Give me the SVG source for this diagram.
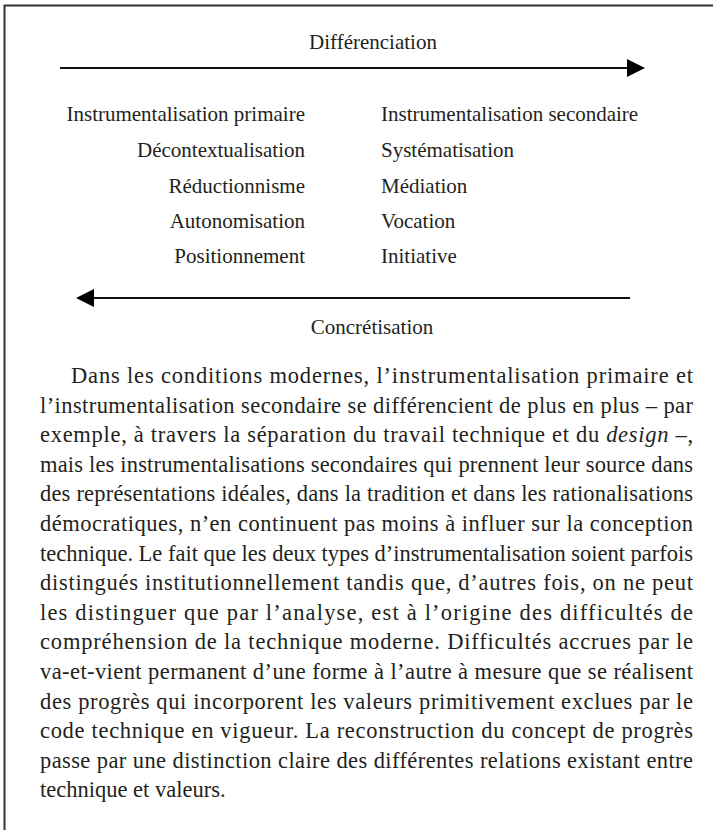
<svg xmlns="http://www.w3.org/2000/svg" width="713" height="830" viewBox="0 0 713 830">
<style>
.lbl{font-family:"Liberation Serif","Times New Roman",serif;font-size:21px;fill:#231f20}
.par{font-family:"Liberation Serif","Times New Roman",serif;font-size:22.5px;fill:#231f20}
.ln{stroke:#111;stroke-width:2.2;fill:none}
.frame{stroke:#333;stroke-width:2;fill:none}
</style>
<defs>
<marker id="ah" viewBox="0 0 18 18" refX="0" refY="9" markerWidth="18" markerHeight="18" markerUnits="userSpaceOnUse" orient="auto">
<path d="M0,0 L18,9 L0,18 Z" fill="#000"/>
</marker>
</defs>
<rect width="713" height="830" fill="#fff"/>
<path class="frame" d="M4.5,830 L4.5,5.5 L713,5.5"/>
<g id="connectors">
<line class="ln" x1="60" y1="68" x2="627" y2="68" marker-end="url(#ah)"/>
<line class="ln" x1="630" y1="298" x2="94" y2="298" marker-end="url(#ah)"/>
</g>
<g id="differenciation"><text class="lbl" x="373" y="49" text-anchor="middle">Différenciation</text></g>
<g id="concretisation"><text class="lbl" x="372" y="334" text-anchor="middle">Concrétisation</text></g>
<g id="col-primaire" class="lbl" text-anchor="end">
<text x="305" y="121">Instrumentalisation primaire</text>
<text x="305" y="157">Décontextualisation</text>
<text x="305" y="193">Réductionnisme</text>
<text x="305" y="228">Autonomisation</text>
<text x="305" y="263">Positionnement</text>
</g>
<g id="col-secondaire" class="lbl">
<text x="381" y="121">Instrumentalisation secondaire</text>
<text x="381" y="157">Systématisation</text>
<text x="381" y="193">Médiation</text>
<text x="381" y="228">Vocation</text>
<text x="381" y="263">Initiative</text>
</g>
<g id="paragraph" class="par">
<text x="71" y="383" textLength="622" lengthAdjust="spacing">Dans les conditions modernes, l’instrumentalisation primaire et</text>
<text x="40" y="412.6" textLength="653" lengthAdjust="spacing">l’instrumentalisation secondaire se différencient de plus en plus – par</text>
<text x="40" y="442.2" textLength="653" lengthAdjust="spacing">exemple, à travers la séparation du travail technique et du <tspan font-style="italic">design</tspan> –,</text>
<text x="40" y="471.8" textLength="653" lengthAdjust="spacing">mais les instrumentalisations secondaires qui prennent leur source dans</text>
<text x="40" y="501.4" textLength="653" lengthAdjust="spacing">des représentations idéales, dans la tradition et dans les rationalisations</text>
<text x="40" y="531" textLength="653" lengthAdjust="spacing">démocratiques, n’en continuent pas moins à influer sur la conception</text>
<text x="40" y="560.6" textLength="653" lengthAdjust="spacing">technique. Le fait que les deux types d’instrumentalisation soient parfois</text>
<text x="40" y="590.2" textLength="653" lengthAdjust="spacing">distingués institutionnellement tandis que, d’autres fois, on ne peut</text>
<text x="40" y="619.8" textLength="653" lengthAdjust="spacing">les distinguer que par l’analyse, est à l’origine des difficultés de</text>
<text x="40" y="649.4" textLength="653" lengthAdjust="spacing">compréhension de la technique moderne. Difficultés accrues par le</text>
<text x="40" y="679" textLength="653" lengthAdjust="spacing">va-et-vient permanent d’une forme à l’autre à mesure que se réalisent</text>
<text x="40" y="708.6" textLength="653" lengthAdjust="spacing">des progrès qui incorporent les valeurs primitivement exclues par le</text>
<text x="40" y="738.2" textLength="653" lengthAdjust="spacing">code technique en vigueur. La reconstruction du concept de progrès</text>
<text x="40" y="767.8" textLength="653" lengthAdjust="spacing">passe par une distinction claire des différentes relations existant entre</text>
<text x="40" y="797.4">technique et valeurs.</text>
</g>
</svg>
